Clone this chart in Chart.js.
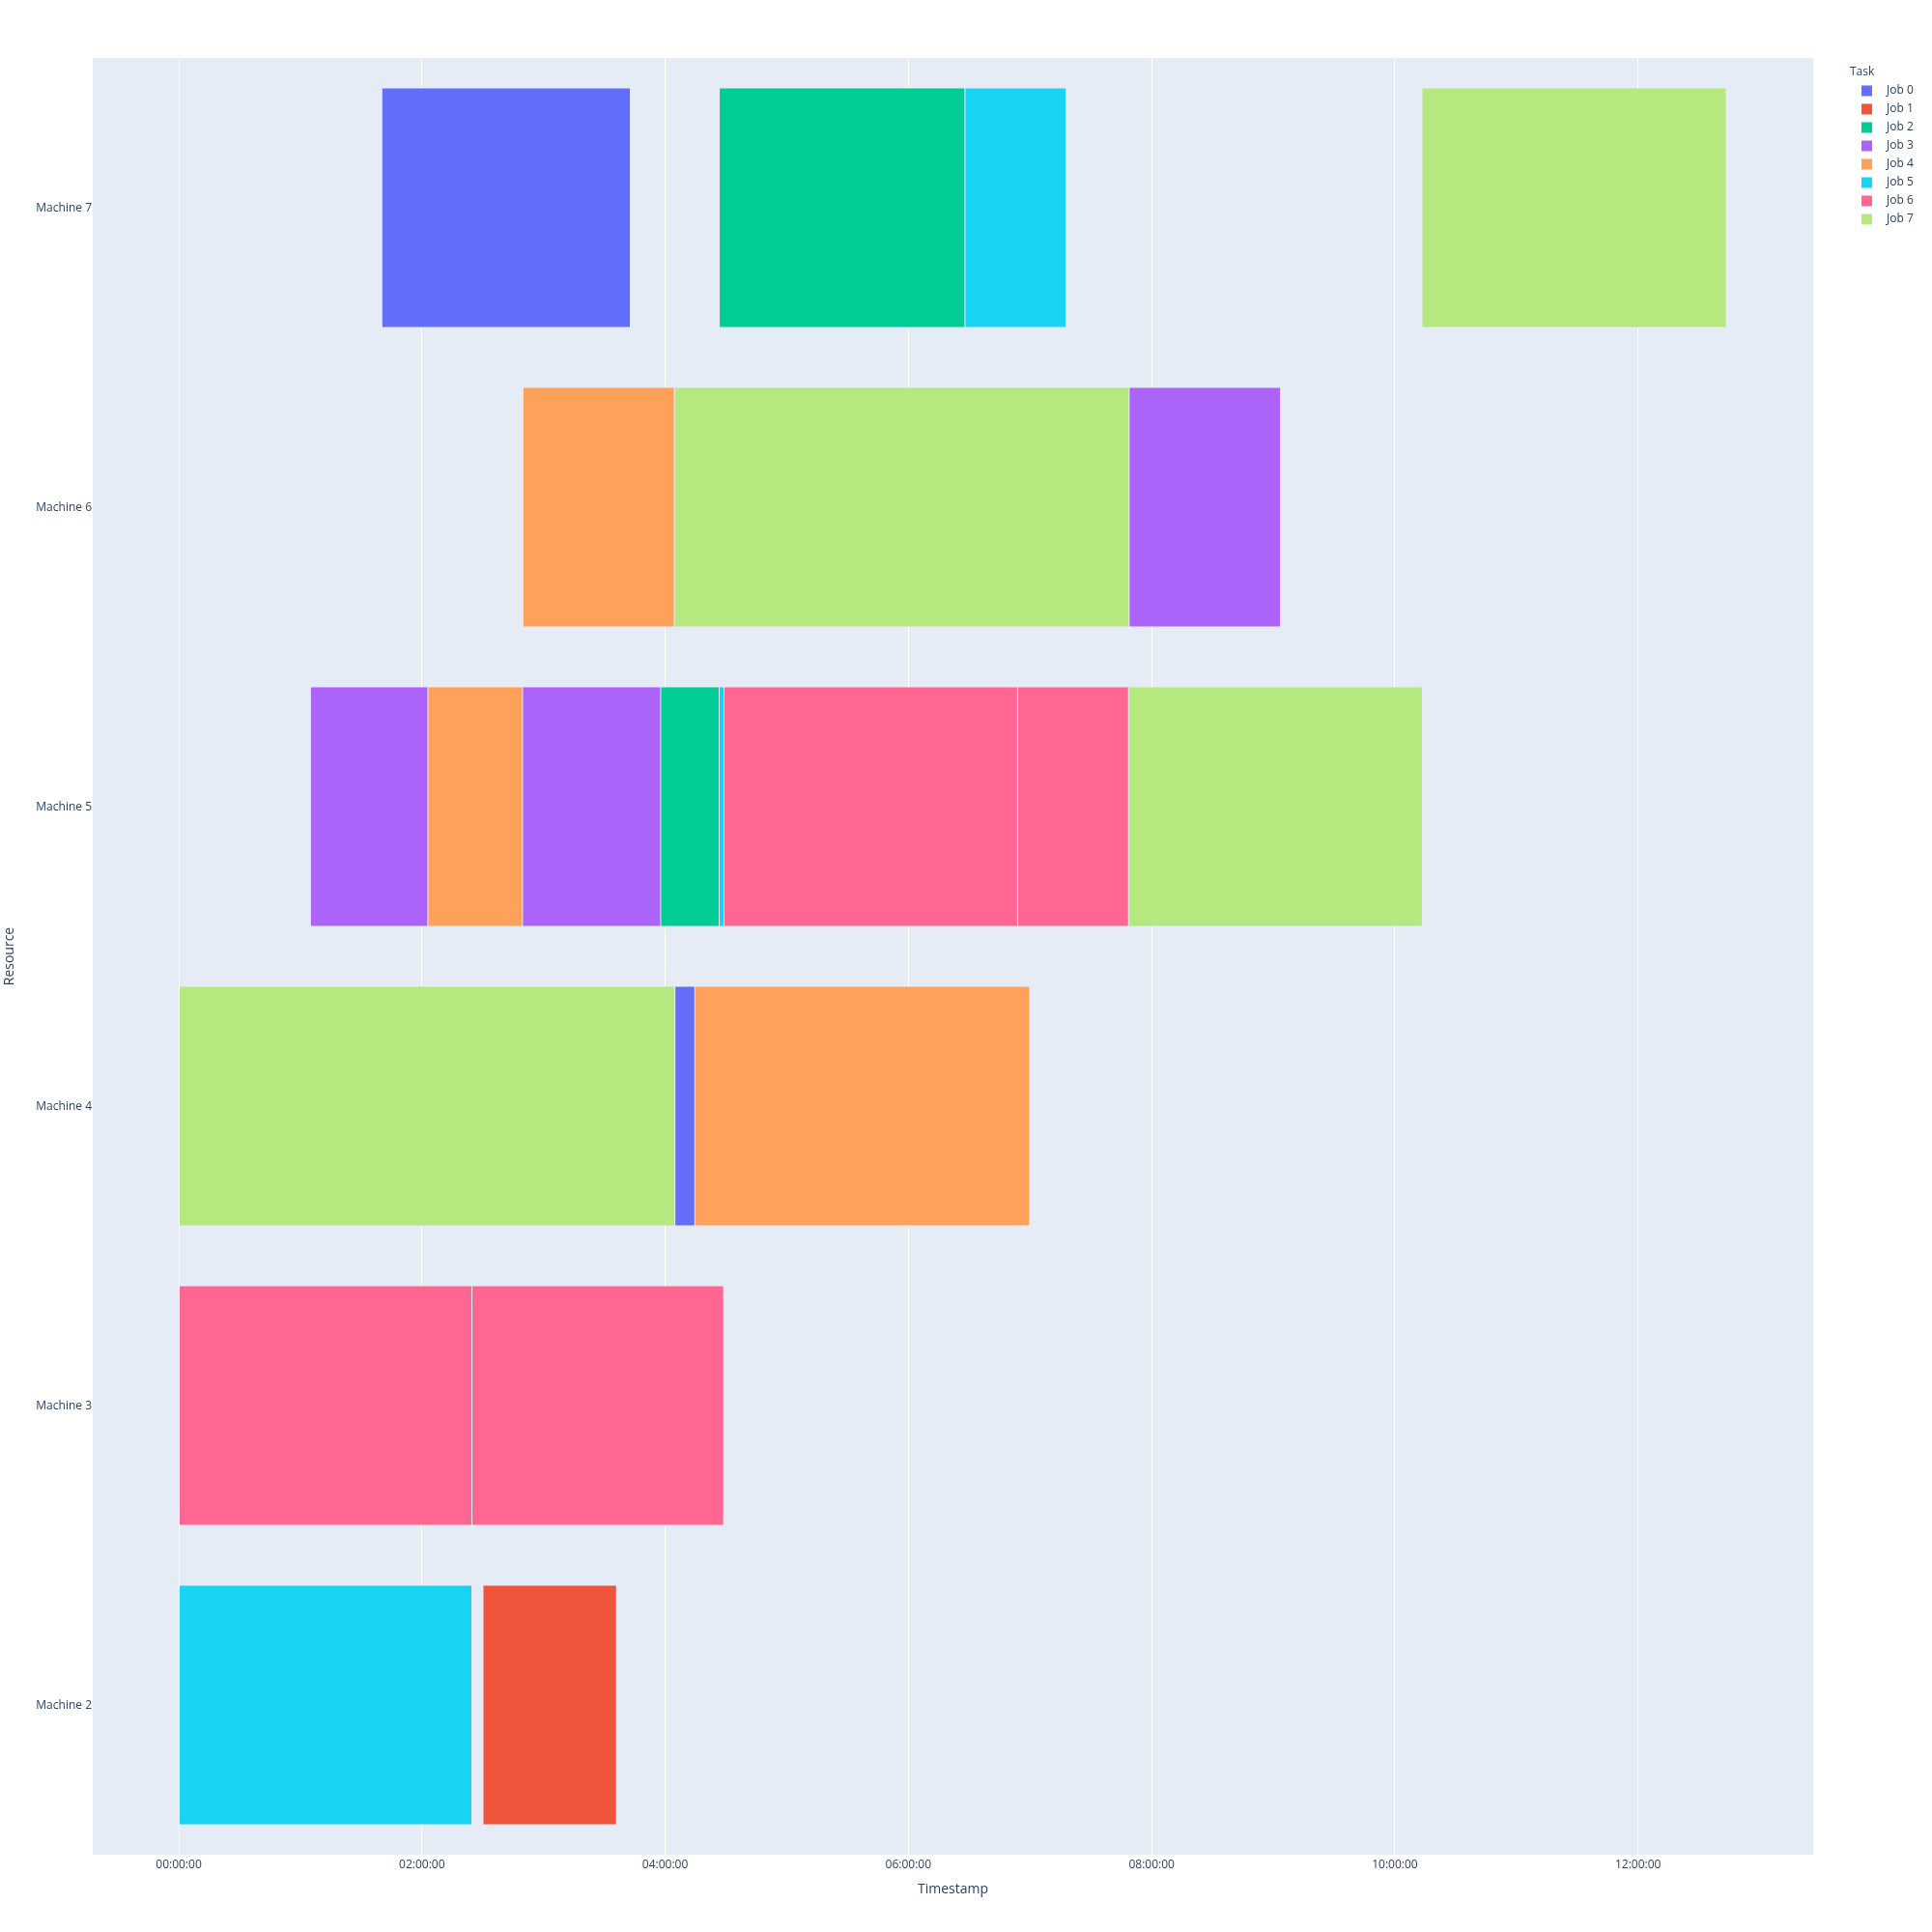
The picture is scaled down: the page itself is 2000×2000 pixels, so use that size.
<!DOCTYPE html>
<html><head><meta charset="utf-8">
<script src="https://cdn.jsdelivr.net/npm/chart.js@4.4.0/dist/chart.umd.min.js"></script>
<style>html,body{margin:0;padding:0;background:#fff;}canvas{display:block;}</style>
</head><body>
<canvas id="c" width="2000" height="2000"></canvas>
<script>
// ---- data ----
const machines = ['Machine 7', 'Machine 6', 'Machine 5', 'Machine 4', 'Machine 3', 'Machine 2'];
const jobs = ['Job 0', 'Job 1', 'Job 2', 'Job 3', 'Job 4', 'Job 5', 'Job 6', 'Job 7'];
const jobColors = ['#636efa', '#EF553B', '#00cc96', '#ab63fa', '#FFA15A', '#19d3f3', '#FF6692', '#B6E880'];

// tasks (start / end in hours from 00:00:00)
const taskMachine = ['Machine 7','Machine 7','Machine 7','Machine 7',
                     'Machine 6','Machine 6','Machine 6',
                     'Machine 5','Machine 5','Machine 5','Machine 5','Machine 5','Machine 5','Machine 5','Machine 5',
                     'Machine 4','Machine 4','Machine 4',
                     'Machine 3','Machine 3',
                     'Machine 2','Machine 2'];
const taskJob = [0, 2, 5, 7,
                 4, 7, 3,
                 3, 4, 3, 2, 5, 6, 6, 7,
                 7, 0, 4,
                 6, 6,
                 5, 1];
const taskStart = [1.670, 4.445, 6.465, 10.223,
                   2.830, 4.076, 7.815,
                   1.083, 2.049, 2.827, 3.963, 4.444, 4.484, 6.898, 7.810,
                   0.000, 4.080, 4.244,
                   0.000, 2.411,
                   0.000, 2.502];
const taskEnd = [3.714, 6.465, 7.298, 12.725,
                 4.076, 7.815, 9.060,
                 2.049, 2.827, 3.963, 4.444, 4.484, 6.898, 7.810, 10.226,
                 4.080, 4.244, 6.997,
                 2.411, 4.481,
                 2.411, 3.600];

const tickHours = [0, 2, 4, 6, 8, 10, 12];
const tickLabels = ['00:00:00', '02:00:00', '04:00:00', '06:00:00', '08:00:00', '10:00:00', '12:00:00'];
const axisMin = -0.707;
const axisMax = 13.44;

// ---- chart ----
const FONT = '"Open Sans", "Liberation Sans", sans-serif';
const TEXT = '#2a3f5f';

const datasets = taskJob.map((j, i) => ({
  label: jobs[j],
  jobIndex: j,
  data: machines.map(m => m === taskMachine[i] ? [taskStart[i], taskEnd[i]] : null),
  backgroundColor: jobColors[j],
  borderColor: '#E5ECF6',
  borderWidth: 0.5,
  borderSkipped: false,
  grouped: false,
  barPercentage: 0.8,
  categoryPercentage: 1.0
}));

const bgPlugin = {
  id: 'bg',
  beforeDraw(chart) {
    const {ctx, chartArea: a} = chart;
    ctx.save();
    ctx.fillStyle = '#ffffff';
    ctx.fillRect(0, 0, chart.width, chart.height);
    ctx.fillStyle = '#E5ECF6';
    ctx.fillRect(a.left, a.top, a.right - a.left, a.bottom - a.top);
    ctx.restore();
  }
};

const legendPlugin = {
  id: 'plotlyLegend',
  afterDraw(chart) {
    const ctx = chart.ctx;
    const a = chart.chartArea;
    const x0 = a.right + 38;
    ctx.save();
    ctx.textBaseline = 'middle';
    ctx.textAlign = 'left';
    ctx.font = '12px ' + FONT;
    ctx.fillStyle = TEXT;
    ctx.fillText('Task', x0, 74.2);
    jobs.forEach((name, k) => {
      const y = 94 + 19 * k;
      ctx.fillStyle = jobColors[k];
      ctx.fillRect(x0 + 12, y - 5.5, 11, 11);
      ctx.fillStyle = TEXT;
      ctx.fillText(name, x0 + 38, y);
    });
    ctx.restore();
  }
};

new Chart(document.getElementById('c'), {
  type: 'bar',
  data: { labels: machines, datasets },
  options: {
    indexAxis: 'y',
    responsive: false,
    animation: false,
    devicePixelRatio: 1,
    layout: { padding: { top: 60, right: 123, bottom: 0, left: 0 } },
    plugins: { legend: { display: false }, tooltip: { enabled: false } },
    scales: {
      x: {
        type: 'linear',
        position: 'bottom',
        min: axisMin,
        max: axisMax,
        afterBuildTicks: s => { s.ticks = tickHours.map(v => ({ value: v })); },
        afterFit: s => { s.height = 80; },
        grid: { color: '#ffffff', lineWidth: 1, drawTicks: false },
        border: { display: false },
        ticks: {
          padding: 3, color: TEXT, font: { family: FONT, size: 12 },
          maxRotation: 0, autoSkip: false,
          callback: v => { const i = tickHours.indexOf(v); return i >= 0 ? tickLabels[i] : ''; }
        },
        title: { display: true, text: 'Timestamp', color: TEXT, font: { family: FONT, size: 14 }, padding: { top: 0, bottom: 35.1 } }
      },
      y: {
        type: 'category',
        afterFit: s => { s.width = 96; },
        grid: { display: false, drawTicks: false },
        border: { display: false },
        ticks: { padding: 1, labelOffset: 0.6, color: TEXT, font: { family: FONT, size: 12 } },
        title: { display: true, text: 'Resource', color: TEXT, font: { family: FONT, size: 14 }, padding: { top: 1.6, bottom: 0 } }
      }
    }
  },
  plugins: [bgPlugin, legendPlugin]
});
</script>
</body></html>
